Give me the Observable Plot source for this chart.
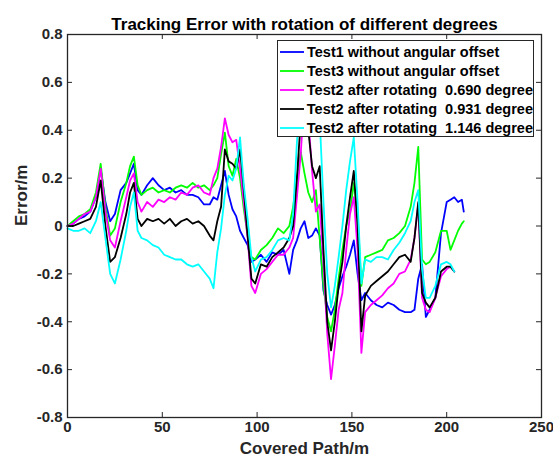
<!DOCTYPE html>
<html><head><meta charset="utf-8">
<script src="https://cdn.jsdelivr.net/npm/d3@7"></script>
<script src="https://cdn.jsdelivr.net/npm/@observablehq/plot@0.6"></script>
<style>
body{margin:0;background:#fff;}
#wrap{position:relative;width:553px;height:464px;font-family:"Liberation Sans",Arial,sans-serif;}
#legend{position:absolute;left:277px;top:40px;width:257px;height:97px;border:1px solid #262626;background:#fff;box-sizing:border-box;padding-top:1px;}
.row{height:19px;display:flex;align-items:center;white-space:pre;font-weight:bold;font-size:14.5px;color:#000;}
.row svg{margin-left:2px;margin-right:3px;}
</style>
</head><body>
<div id="wrap"><div id="legend"></div></div>
<script>
const titleText = "Tracking Error with rotation of different degrees";
const xLabel = "Covered Path/m";
const yLabel = "Error/m";
const xTicks = [0, 50, 100, 150, 200, 250];
const yTicks = [-0.8, -0.6, -0.4, -0.2, 0, 0.2, 0.4, 0.6, 0.8];
const seriesNames = [
  "Test1 without angular offset",
  "Test3 without angular offset",
  "Test2 after rotating  0.690 degree",
  "Test2 after rotating  0.931 degree",
  "Test2 after rotating  1.146 degree"
];
const seriesColors = ["#0000ff", "#00ff00", "#ff00ff", "#000000", "#00ffff"];

const path = [0,3,6,9,12,15,17.5,20,22.5,25,28,31,33,35,37,39,42,45,48,51,54,57,60,63,66,69,72,75,77,79,81,83,85,87,89,91,93,95,97,99,102,105,108,111,114,117,119,121,123,125,127,129,131,133,135,137,139,141,143,145,147,149,151,153,155,157,160,163,166,169,172,175,178,181,183,185,187,189,191,194,197,200,202,204,206,208,209];

const test1 = [0.00,0.01,0.03,0.04,0.06,0.12,0.24,0.10,0.02,0.05,0.15,0.18,0.22,0.26,0.15,0.13,0.17,0.20,0.17,0.15,0.16,0.14,0.15,0.13,0.13,0.12,0.09,0.09,0.12,0.11,0.17,0.23,0.13,0.07,0.04,-0.02,-0.05,-0.08,-0.15,-0.14,-0.12,-0.15,-0.11,-0.12,-0.10,-0.20,-0.10,-0.06,-0.01,0.02,-0.05,-0.04,-0.01,-0.04,-0.27,-0.33,-0.37,-0.33,-0.26,-0.21,-0.17,-0.12,-0.06,-0.20,-0.31,-0.28,-0.31,-0.33,-0.34,-0.32,-0.33,-0.35,-0.36,-0.36,-0.35,-0.22,-0.16,-0.38,-0.35,-0.30,-0.03,0.10,0.11,0.12,0.10,0.11,0.06];

const test3 = [0.00,0.02,0.04,0.05,0.07,0.14,0.26,0.08,-0.04,-0.01,0.10,0.18,0.25,0.29,0.17,0.13,0.15,0.16,0.14,0.15,0.14,0.16,0.17,0.16,0.18,0.16,0.17,0.15,0.17,0.20,0.30,0.39,0.25,0.21,0.28,0.20,0.07,-0.04,-0.13,-0.14,-0.10,-0.08,-0.05,-0.01,-0.03,0.00,0.08,0.20,0.31,0.22,0.14,0.10,0.15,-0.05,-0.25,-0.38,-0.44,-0.35,-0.22,-0.10,0.00,0.06,0.18,0.05,-0.25,-0.13,-0.12,-0.11,-0.10,-0.06,-0.05,-0.03,0.00,0.08,0.18,0.33,-0.14,-0.16,-0.15,-0.11,-0.02,-0.02,-0.10,-0.06,-0.02,0.01,0.02];

const rot0690 = [0.00,0.01,0.03,0.05,0.06,0.12,0.24,0.06,-0.06,-0.09,0.02,0.12,0.19,0.22,0.10,0.06,0.10,0.08,0.11,0.10,0.12,0.11,0.14,0.13,0.16,0.17,0.14,0.13,0.20,0.24,0.33,0.45,0.38,0.35,0.36,0.24,0.10,-0.05,-0.25,-0.28,-0.20,-0.18,-0.15,-0.12,-0.12,-0.09,-0.05,0.12,0.30,0.55,0.45,0.23,0.06,0.09,-0.15,-0.45,-0.64,-0.50,-0.35,-0.28,-0.10,0.05,0.12,-0.10,-0.53,-0.36,-0.33,-0.31,-0.29,-0.26,-0.24,-0.20,-0.19,-0.14,-0.05,0.09,-0.30,-0.35,-0.36,-0.30,-0.21,-0.18,-0.17,-0.19,null,null,null];

const rot0931 = [0.00,0.00,0.01,0.02,0.03,0.08,0.19,0.00,-0.15,-0.13,-0.05,0.05,0.14,0.18,0.03,0.00,0.03,0.02,0.03,0.01,0.03,0.00,0.02,0.03,0.01,0.02,0.00,-0.04,-0.06,0.02,0.08,0.32,0.27,0.26,0.24,0.32,0.15,-0.04,-0.22,-0.24,-0.16,-0.17,-0.13,-0.11,-0.09,-0.05,0.00,0.20,0.44,0.52,0.40,0.25,0.20,0.25,-0.10,-0.40,-0.52,-0.40,-0.25,-0.15,0.00,0.12,0.23,0.00,-0.44,-0.29,-0.25,-0.23,-0.21,-0.19,-0.16,-0.13,-0.12,-0.15,-0.05,0.10,-0.28,-0.32,-0.34,-0.30,-0.19,-0.17,-0.17,-0.19,null,null,null];

const rot1146 = [-0.01,-0.02,-0.02,-0.01,-0.03,0.02,0.10,-0.05,-0.20,-0.24,-0.14,-0.02,0.08,0.14,-0.02,-0.05,-0.06,-0.08,-0.09,-0.12,-0.13,-0.14,-0.14,-0.16,-0.17,-0.16,-0.19,-0.22,-0.26,-0.11,-0.01,0.13,0.21,0.19,0.24,0.37,0.17,0.03,-0.13,-0.19,-0.14,-0.13,-0.10,-0.06,-0.05,-0.06,0.05,0.35,0.55,0.58,0.55,0.55,0.50,0.45,0.10,-0.20,-0.34,-0.25,-0.13,0.00,0.15,0.27,0.37,0.10,-0.24,-0.14,-0.15,-0.13,-0.13,-0.14,-0.10,-0.07,-0.03,0.02,0.10,0.15,-0.18,-0.30,-0.30,-0.25,-0.16,-0.15,-0.16,-0.19,null,null,null];

const seriesValues = [test1, test3, rot0690, rot0931, rot1146];

const lineMarks = seriesValues.map((vals, k) => {
  const rows = path.map((x, i) => ({x, y: vals[i]})).filter(d => d.y !== null);
  return Plot.line(rows, {x: "x", y: "y", stroke: seriesColors[k], strokeWidth: 1.8});
});

const fmt = d => String(d);
const chart = Plot.plot({
  width: 553, height: 464,
  marginTop: 34, marginLeft: 67, marginRight: 12, marginBottom: 47,
  x: {domain: [0, 250]},
  y: {domain: [-0.8, 0.8]},
  style: {fontFamily: "'Liberation Sans', Arial, sans-serif", fontSize: "15px", fontWeight: "bold", color: "#262626", background: "#fff"},
  marks: [
    ...lineMarks,
    Plot.frame({stroke: "#262626", strokeWidth: 1.3}),
    Plot.tickX(xTicks, {x: d => d, insetTop: 378, stroke: "#262626"}),
    Plot.tickX(xTicks, {x: d => d, insetBottom: 378, stroke: "#262626"}),
    Plot.tickY(yTicks, {y: d => d, insetRight: 469, stroke: "#262626"}),
    Plot.tickY(yTicks, {y: d => d, insetLeft: 469, stroke: "#262626"}),
    Plot.axisX(xTicks, {anchor: "bottom", tickSize: 0, tickPadding: 4, tickFormat: fmt, label: null, fill: "#262626"}),
    Plot.axisY(yTicks, {anchor: "left", tickSize: 0, tickPadding: 5, tickFormat: fmt, label: null, fill: "#262626"}),
    Plot.text([titleText], {text: d => d, frameAnchor: "top", dy: -17, fontSize: 17, fontWeight: "bold", fill: "#000"}),
    Plot.text([xLabel], {text: d => d, frameAnchor: "bottom", dy: 36, fontSize: 17, fontWeight: "bold", fill: "#262626"}),
    Plot.text([yLabel], {text: d => d, frameAnchor: "left", dx: -46, rotate: -90, fontSize: 17, fontWeight: "bold", fill: "#262626"})
  ]
});
const wrap = document.getElementById("wrap");
wrap.insertBefore(chart, wrap.firstChild);

const legend = document.getElementById("legend");
seriesNames.forEach((name, k) => {
  const row = document.createElement("div");
  row.className = "row";
  row.innerHTML = `<svg width="24" height="4"><line x1="0" y1="2" x2="24" y2="2" stroke="${seriesColors[k]}" stroke-width="1.8"/></svg><span>${name}</span>`;
  legend.appendChild(row);
});
</script>
</body></html>
